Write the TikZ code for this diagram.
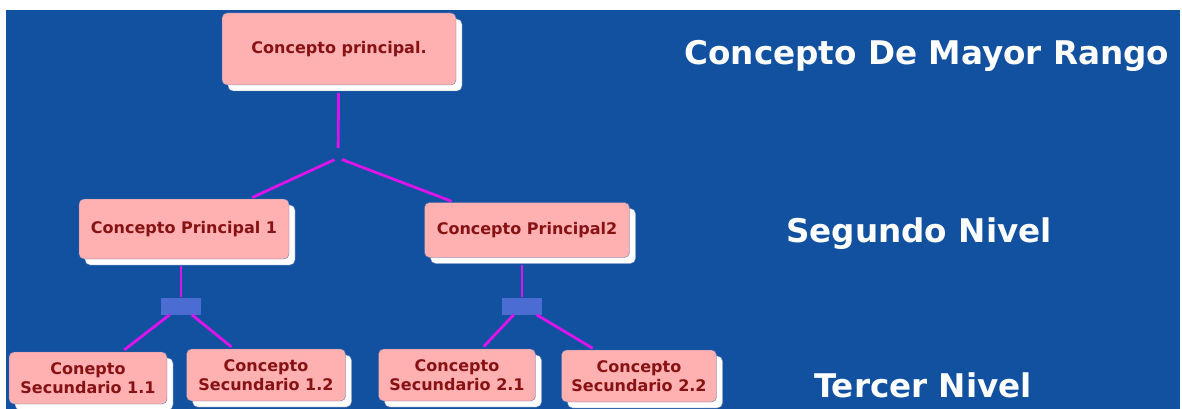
\documentclass[tikz,border=0pt]{standalone}
\usepackage{fontspec}
\setmainfont{DejaVu Sans}
\usepackage{tikz}
\usetikzlibrary{shadows,calc}

\definecolor{fondo}{RGB}{18,80,160}
\definecolor{rosa}{RGB}{255,176,176}
\definecolor{borde}{RGB}{95,120,180}
\definecolor{granate}{RGB}{135,18,22}
\definecolor{linea}{RGB}{220,20,235}
\definecolor{azulnudo}{RGB}{75,108,210}

\tikzset{
  concepto/.style={draw=borde, fill=rosa, rounded corners=5pt, inner sep=0pt,
    text=granate, align=center, font=\bfseries\fontsize{16}{19.5}\selectfont,
    drop shadow={shadow xshift=6pt, shadow yshift=-6pt, fill=white, draw=borde, opacity=1}},
  enlace/.style={draw=linea, line width=2.8pt, shorten >=3pt},
  nudo/.style={fill=azulnudo, minimum width=40pt, minimum height=17pt, inner sep=0pt},
  nivel/.style={text=white, font=\bfseries\fontsize{32.6}{38}\selectfont, anchor=base}
}

\begin{document}
\begin{tikzpicture}[x=1pt,y=-1pt]
  \useasboundingbox (0,0) rectangle (1182,409);
  \fill[white] (0,0) rectangle (1182,409);
  \fill[fondo] (6,10) rectangle (1180,409);

  \node[concepto, minimum width=234pt, minimum height=72pt] (cp) at (339,49) {Concepto principal.};
  \node[concepto, minimum width=210pt, minimum height=60pt] (cp1) at (184,229) {Concepto Principal 1};
  \node[concepto, minimum width=205pt, minimum height=55pt] (cp2) at (527,230) {Concepto Principal2};
  \node[concepto, minimum width=158pt, minimum height=52pt] (cs11) at (88,378) {Conepto\\Secundario 1.1};
  \node[concepto, minimum width=159pt, minimum height=52pt] (cs12) at (266,375) {Concepto\\Secundario 1.2};
  \node[concepto, minimum width=157pt, minimum height=52pt] (cs21) at (457,375) {Concepto\\Secundario 2.1};
  \node[concepto, minimum width=155pt, minimum height=52pt] (cs22) at (639,376) {Concepto\\Secundario 2.2};

  \node[nudo] (n1) at (181,306) {};
  \node[nudo] (n2) at (522,306) {};
  \coordinate (rama) at (338,158);

  \draw[enlace, shorten <=8pt, shorten >=10pt] (cp) -- (rama);
  \draw[enlace, shorten <=4pt] (rama) -- (cp1);
  \draw[enlace, shorten <=4pt] (rama) -- (cp2);
  \draw[enlace, shorten <=7pt, shorten >=0pt] (cp1.south -| n1) -- (n1);
  \draw[enlace, shorten <=7pt, shorten >=0pt] (cp2.south -| n2) -- (n2);
  \draw[enlace] (n1) -- (cs11);
  \draw[enlace] (n1) -- (cs12);
  \draw[enlace] (n2) -- (cs21);
  \draw[enlace] (n2) -- (cs22);

  \node[nivel] (mayor) at (927,65) {Concepto De Mayor Rango};
  \node[nivel] (segundo) at (919,242) {Segundo Nivel};
  \node[nivel] (tercer) at (923,397) {Tercer Nivel};
\end{tikzpicture}
\end{document}
